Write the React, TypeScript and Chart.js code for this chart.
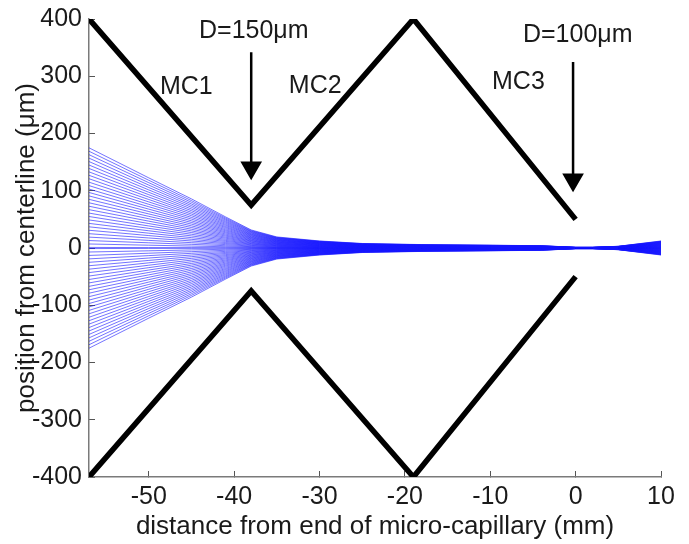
import { useEffect, useRef } from "react";
import { Chart, registerables } from "chart.js";

Chart.register(...registerables);

const xTicks = [-50, -40, -30, -20, -10, 0, 10];
const yTicks = [400, 300, 200, 100, 0, -100, -200, -300, -400];

const wallX = [-57, -38, -19, 0];
const upperWall = [400, 75, 400, 50];
const lowerWall = [-400, -75, -400, -50];

const arrow150X = [-38, -38];
const arrow150Y = [342, 140];
const arrow100X = [-0.3, -0.3];
const arrow100Y = [325, 119];

const rayStations = [-57, -50, -45, -41, -38, -35, -30, -25, -18, -10, -4, 0, 2, 5, 10];
const upperRays = [
  [175, 122.5, 85.8, 54.3, 31.5, 19.3, 12.3, 7.9, 6, 4.9, 4, 1.2, 1.2, 3, 12.3],
  [169, 118.3, 82.8, 52.4, 30.4, 18.6, 11.8, 7.6, 5.7, 4.7, 3.9, 1.2, 1.2, 2.9, 11.8],
  [163, 114.1, 79.9, 50.5, 29.3, 17.9, 11.4, 7.3, 5.5, 4.6, 3.7, 1.1, 1.1, 2.8, 11.4],
  [157, 109.9, 76.9, 48.7, 28.3, 17.3, 11, 7.1, 5.3, 4.4, 3.6, 1.1, 1.1, 2.7, 11],
  [151, 105.7, 74, 46.8, 27.2, 16.6, 10.6, 6.8, 5.1, 4.2, 3.5, 1.1, 1.1, 2.6, 10.6],
  [145, 101.5, 71.1, 45, 26.1, 16, 10.2, 6.5, 4.9, 4.1, 3.3, 1, 1, 2.5, 10.2],
  [139, 97.3, 68.1, 43.1, 25, 15.3, 9.7, 6.3, 4.7, 3.9, 3.2, 1, 1, 2.4, 9.7],
  [133, 93.1, 65.2, 41.2, 23.9, 14.6, 9.3, 6, 4.5, 3.7, 3.1, 0.9, 0.9, 2.3, 9.3],
  [127, 88.9, 62.2, 39.4, 22.9, 14, 8.9, 5.7, 4.3, 3.6, 2.9, 0.9, 0.9, 2.2, 8.9],
  [121, 84.7, 59.3, 37.5, 21.8, 13.3, 8.5, 5.4, 4.1, 3.4, 2.8, 0.8, 0.8, 2.1, 8.5],
  [115, 80.5, 56.4, 35.7, 20.7, 12.7, 8.1, 5.2, 3.9, 3.2, 2.6, 0.8, 0.8, 2, 8.1],
  [109, 76.3, 53.4, 33.8, 19.6, 12, 7.6, 4.9, 3.7, 3.1, 2.5, 0.8, 0.8, 1.9, 7.6],
  [103, 72.1, 50.5, 31.9, 18.5, 11.3, 7.2, 4.6, 3.5, 2.9, 2.4, 0.7, 0.7, 1.8, 7.2],
  [97, 67.9, 47.5, 30.1, 17.5, 10.7, 6.8, 4.4, 3.3, 2.7, 2.2, 0.7, 0.7, 1.6, 6.8],
  [91, 63.7, 44.6, 28.2, 16.4, 10, 6.4, 4.1, 3.1, 2.5, 2.1, 0.6, 0.6, 1.5, 6.4],
  [85, 59.5, 41.7, 26.4, 15.3, 9.4, 6, 3.8, 2.9, 2.4, 2, 0.6, 0.6, 1.4, 6],
  [79, 55.3, 38.7, 24.5, 14.2, 8.7, 5.5, 3.6, 2.7, 2.2, 1.8, 0.6, 0.6, 1.3, 5.5],
  [73, 51.1, 35.8, 22.6, 13.1, 8, 5.1, 3.3, 2.5, 2, 1.7, 0.5, 0.5, 1.2, 5.1],
  [67, 46.9, 32.8, 20.8, 12.1, 7.4, 4.7, 3, 2.3, 1.9, 1.5, 0.5, 0.5, 1.1, 4.7],
  [61, 42.7, 29.9, 18.9, 11, 6.7, 4.3, 2.7, 2.1, 1.7, 1.4, 0.4, 0.4, 1, 4.3],
  [55, 38.5, 27, 17.1, 9.9, 6.1, 3.9, 2.5, 1.9, 1.5, 1.3, 0.4, 0.4, 0.9, 3.9],
  [49, 34.3, 24, 15.2, 8.8, 5.4, 3.4, 2.2, 1.7, 1.4, 1.1, 0.3, 0.3, 0.8, 3.4],
  [43, 30.1, 21.1, 13.3, 7.7, 4.7, 3, 1.9, 1.5, 1.2, 1, 0.3, 0.3, 0.7, 3],
  [37, 25.9, 18.1, 11.5, 6.7, 4.1, 2.6, 1.7, 1.3, 1, 0.9, 0.3, 0.3, 0.6, 2.6],
  [31, 21.7, 15.2, 9.6, 5.6, 3.4, 2.2, 1.4, 1.1, 0.9, 0.7, 0.2, 0.2, 0.5, 2.2],
  [25, 17.5, 12.3, 7.8, 4.5, 2.8, 1.8, 1.1, 0.9, 0.7, 0.6, 0.2, 0.2, 0.4, 1.8],
  [19, 13.3, 9.3, 5.9, 3.4, 2.1, 1.3, 0.9, 0.6, 0.5, 0.4, 0.1, 0.1, 0.3, 1.3],
  [13, 9.1, 6.4, 4, 2.3, 1.4, 0.9, 0.6, 0.4, 0.4, 0.3, 0.1, 0.1, 0.2, 0.9],
  [7, 4.9, 3.4, 2.2, 1.3, 0.8, 0.5, 0.3, 0.2, 0.2, 0.2, 0, 0, 0.1, 0.5],
  [1, 0.7, 0.5, 0.3, 0.2, 0.1, 0.1, 0, 0, 0, 0, 0, 0, 0, 0.1],
];

const labels = [
  { text: "D=150μm", x: -37.7, y: 379 },
  { text: "MC1", x: -45.6, y: 281 },
  { text: "MC2", x: -30.5, y: 283 },
  { text: "MC3", x: -6.7, y: 290 },
  { text: "D=100μm", x: 0.25, y: 372 },
];

const FONT = "'Liberation Sans', Arial, sans-serif";

const annotationPlugin = {
  id: "annotationText",
  afterDatasetsDraw(chart: any) {
    const { ctx, scales } = chart;
    ctx.save();
    ctx.fillStyle = "#1a1a1a";
    ctx.font = `25px ${FONT}`;
    ctx.textAlign = "center";
    ctx.textBaseline = "middle";
    labels.forEach((l) => ctx.fillText(l.text, scales.x.getPixelForValue(l.x), scales.y.getPixelForValue(l.y)));
    ctx.restore();
  },
};

const line = (xs: number[], ys: number[], color: string, width: number) => ({
  data: xs.map((x, i) => ({ x, y: ys[i] })),
  borderColor: color,
  borderWidth: width,
  pointRadius: 0,
  tension: 0,
});

const arrow = (xs: number[], ys: number[]) => ({
  ...line(xs, ys, "#000", 2.5),
  pointRadius: [0, 10],
  pointStyle: "triangle",
  rotation: 180,
  pointBackgroundColor: "#000",
  pointBorderColor: "#000",
  clip: false,
});

export default function App() {
  const ref = useRef<HTMLCanvasElement>(null);
  useEffect(() => {
    document.body.style.margin = "0";
    const rayColor = "rgba(20,20,255,0.75)";
    const rays = [
      ...upperRays.map((r) => line(rayStations, r, rayColor, 0.8)),
      ...upperRays.map((r) => line(rayStations, r.map((v) => -v), rayColor, 0.8)),
    ];
    const chart = new Chart(ref.current!, {
      type: "line",
      data: {
        datasets: [
          ...rays,
          line(wallX, upperWall, "#000", 5.5),
          line(wallX, lowerWall, "#000", 5.5),
          arrow(arrow150X, arrow150Y),
          arrow(arrow100X, arrow100Y),
        ] as any,
      },
      plugins: [annotationPlugin],
      options: {
        animation: false,
        responsive: false,
        layout: { autoPadding: false, padding: { top: 19, right: 28, left: 0, bottom: 0 } },
        plugins: { legend: { display: false }, tooltip: { enabled: false } },
        scales: {
          x: {
            type: "linear",
            min: -57,
            max: 10,
            afterBuildTicks: (s: any) => { s.ticks = xTicks.map((value) => ({ value })); },
            afterFit: (s: any) => { s.height = 67; s.paddingLeft = 0; s.paddingRight = 0; },
            border: { color: "#7a7a7a", width: 1.5 },
            grid: { drawOnChartArea: false, drawTicks: true, tickLength: -6, tickColor: "#555" },
            ticks: { color: "#1a1a1a", font: { size: 25, family: FONT }, padding: 11, maxRotation: 0, autoSkip: false },
            title: { display: true, text: "distance from end of micro-capillary (mm)", color: "#1a1a1a", font: { size: 26, family: FONT }, padding: { top: 0, bottom: 2 } },
          },
          y: {
            type: "linear",
            min: -400,
            max: 400,
            afterBuildTicks: (s: any) => { s.ticks = yTicks.map((value) => ({ value })); },
            afterFit: (s: any) => { s.width = 89; s.paddingTop = 0; s.paddingBottom = 0; },
            border: { color: "#7a7a7a", width: 1.5 },
            grid: { drawOnChartArea: false, drawTicks: true, tickLength: -6, tickColor: "#555" },
            ticks: { color: "#1a1a1a", font: { size: 25, family: FONT }, padding: 13, autoSkip: false },
            title: { display: true, text: "position from centerline (μm)", color: "#1a1a1a", font: { size: 26, family: FONT }, padding: { top: 11, bottom: 0 } },
          },
        },
      },
    } as any);
    return () => chart.destroy();
  }, []);
  return <canvas ref={ref} width={689} height={544} style={{ display: "block" }} />;
}
